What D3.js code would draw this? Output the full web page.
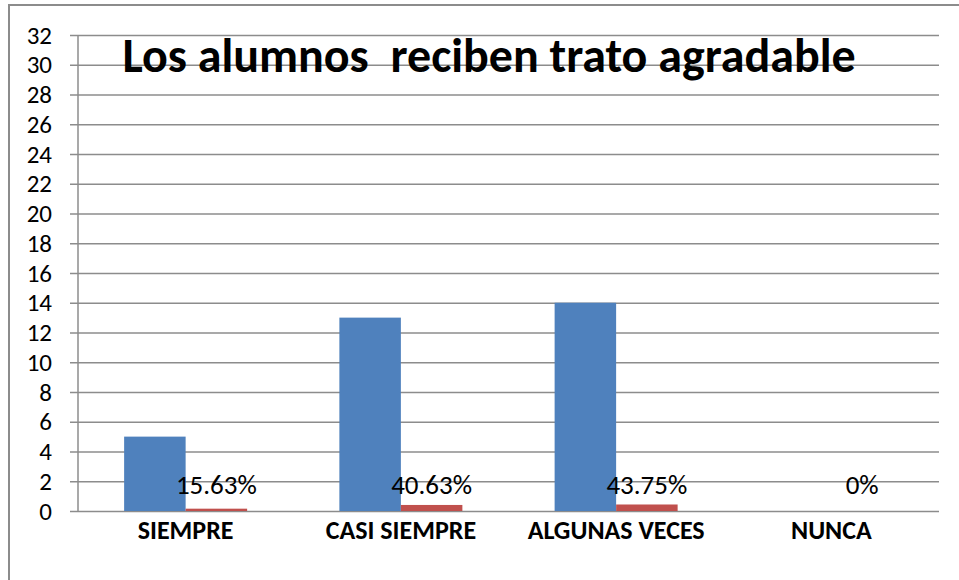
<!DOCTYPE html>
<html>
<head>
<meta charset="utf-8">
<script src="https://cdn.jsdelivr.net/npm/d3@7"></script>
<style>
  body { margin: 0; background: #fff; }
  text { font-family: Carlito, Lato, "Liberation Sans", sans-serif; }
</style>
</head>
<body>
<div id="chart"></div>
<script>
// values
var categories = ["SIEMPRE", "CASI SIEMPRE", "ALGUNAS VECES", "NUNCA"];
var series = ["frecuencia", "porcentaje"];
var frecuencia = [5, 13, 14, 0];
var porcentaje = [0.1563, 0.4063, 0.4375, 0];
var pctLabels = ["15.63%", "40.63%", "43.75%", "0%"];
var yTicks = d3.range(0, 33, 2);
var title = "Los alumnos  reciben trato agradable";

var colors = { frecuencia: "#4F81BD", porcentaje: "#C0504D" };

var W = 959, H = 580;
var margin = { top: 35, right: 20, bottom: 69, left: 78 };
var width = W - margin.left - margin.right;
var height = H - margin.top - margin.bottom;

var data = categories.map(function (c, i) {
    return { cat: c, frecuencia: frecuencia[i], porcentaje: porcentaje[i], label: pctLabels[i] };
});

var svg = d3.select("#chart").append("svg")
    .attr("width", W)
    .attr("height", H);

svg.append("rect")
    .attr("width", W).attr("height", H)
    .attr("fill", "#fff");

// chart area border (runs off the right and bottom edges)
svg.append("rect")
    .attr("x", 9).attr("y", 5)
    .attr("width", W + 20).attr("height", H + 20)
    .attr("fill", "none")
    .attr("stroke", "#8c8c8c")
    .attr("stroke-width", 2);

var g = svg.append("g")
    .attr("transform", "translate(" + margin.left + "," + margin.top + ")");

var x = d3.scaleBand().domain(categories).range([0, width]);
var x1 = d3.scaleBand().domain(series).range([0, x.bandwidth()]).paddingOuter(0.75);
var y = d3.scaleLinear().domain([0, 32]).range([height, 0]);

// gridlines + tick labels
var yAxis = g.append("g")
    .attr("transform", "translate(-8,0)")
    .call(d3.axisLeft(y).tickValues(yTicks).tickSize(-(width + 8)).tickPadding(18));
yAxis.select(".domain").remove();
yAxis.selectAll(".tick line")
    .attr("stroke", "#8c8c8c")
    .attr("stroke-width", 1.5);
yAxis.selectAll(".tick text")
    .attr("fill", "#000")
    .style("font-size", "25px");

// vertical axis line
g.append("line")
    .attr("x1", 0).attr("x2", 0)
    .attr("y1", 0).attr("y2", height)
    .attr("stroke", "#8c8c8c")
    .attr("stroke-width", 1.5);

// bars
var groups = g.selectAll(".grp")
    .data(data)
    .enter().append("g")
    .attr("class", "grp")
    .attr("transform", function (d) { return "translate(" + x(d.cat) + ",0)"; });

groups.selectAll("rect")
    .data(function (d) { return series.map(function (s) { return { key: s, value: d[s] }; }); })
    .enter().append("rect")
    .attr("x", function (d) { return x1(d.key); })
    .attr("width", x1.bandwidth())
    .attr("y", function (d) { return y(d.value); })
    .attr("height", function (d) { return y(0) - y(d.value); })
    .attr("fill", function (d) { return colors[d.key]; });

// percentage labels over the red bars
groups.append("text")
    .attr("x", x1("porcentaje") + x1.bandwidth() / 2)
    .attr("y", y(0) - 17)
    .attr("text-anchor", "middle")
    .style("font-size", "27px")
    .text(function (d) { return d.label; });

// category labels
g.selectAll(".cat")
    .data(categories)
    .enter().append("text")
    .attr("class", "cat")
    .attr("x", function (d) { return x(d) + x.bandwidth() / 2; })
    .attr("y", height + 28)
    .attr("text-anchor", "middle")
    .style("font-size", "26px")
    .style("font-weight", "bold")
    .text(function (d) { return d; });

// title
svg.append("text")
    .attr("x", 489)
    .attr("y", 72)
    .attr("text-anchor", "middle")
    .style("font-size", "48px")
    .style("font-weight", "bold")
    .style("white-space", "pre")
    .text(title);
</script>
</body>
</html>
